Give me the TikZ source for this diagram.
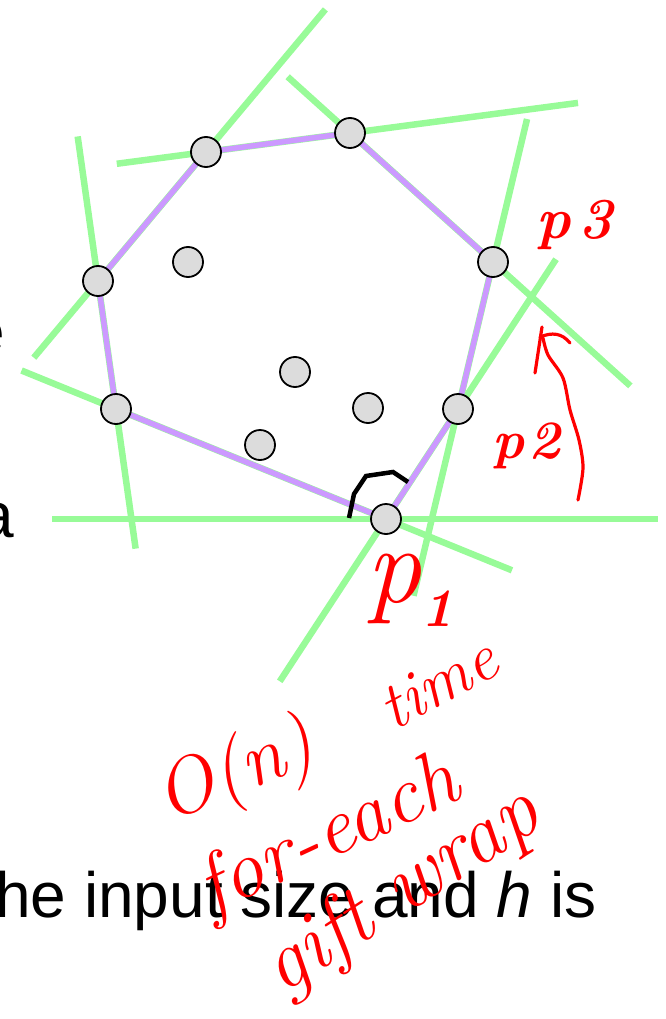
\documentclass[tikz,border=0pt]{standalone}
\usepackage{fontspec}
\usepackage{tikz}
\usetikzlibrary{arrows.meta, backgrounds}
\newfontfamily\slidefont{Liberation Sans}
\definecolor{suppgreen}{RGB}{152,251,152}
\definecolor{hullpurple}{RGB}{204,153,255}
\definecolor{pointgray}{RGB}{220,220,220}

\begin{document}
\begin{tikzpicture}[
  x=1pt, y=-1pt,
  supp/.style={draw=suppgreen, line width=6.5pt},
  hull/.style={draw=hullpurple, line width=5.5pt},
  pnt/.style={circle, draw, fill=pointgray, line width=1.8pt,
    minimum size=30pt, inner sep=0pt},
  anglearc/.style={draw=black, line width=4.5pt},
  pen/.style={draw=red, line width=3.2pt, line cap=round, line join=round},
  note/.style={text=red, inner sep=0pt},
  slide/.style={font=\slidefont\fontsize{64}{64}\selectfont, inner sep=0pt}
]
\useasboundingbox (0,0) rectangle (665,1019);
\clip (0,0) rectangle (665,1019);

\node[slide, anchor=base west] (body) at (-5,917) {he input size and \textit{h} is};
\node[slide, anchor=base east] (cuta) at (14,537) {a};
\node[slide, anchor=base east] (cute) at (5,353) {e};

\node[pnt] (p1) at (386,519) {};
\node[pnt] (p2) at (458,409) {};
\node[pnt] (p3) at (493,262) {};
\node[pnt] (p4) at (350,133) {};
\node[pnt] (p5) at (206,152) {};
\node[pnt] (p6) at (98,281) {};
\node[pnt] (p7) at (116,409) {};
\node[pnt] (q1) at (188,262) {};
\node[pnt] (q2) at (295,372) {};
\node[pnt] (q3) at (368,408) {};
\node[pnt] (q4) at (260,445) {};

\begin{scope}[on background layer]
\draw[supp] ([xshift=-334pt]p1.center) -- ([xshift=272pt]p1.center);
\draw[supp, shorten <=-194pt, shorten >=-179pt] (p1.center) -- (p2.center);
\draw[supp, shorten <=-192pt, shorten >=-147pt] (p2.center) -- (p3.center);
\draw[supp, shorten <=-185pt, shorten >=-84pt] (p3.center) -- (p4.center);
\draw[supp, shorten <=-230pt, shorten >=-90pt] (p4.center) -- (p5.center);
\draw[supp, shorten <=-186pt, shorten >=-100pt] (p5.center) -- (p6.center);
\draw[supp, shorten <=-146pt, shorten >=-141pt] (p6.center) -- (p7.center);
\draw[supp, shorten <=-102pt, shorten >=-136pt] (p7.center) -- (p1.center);
\draw[hull] (p1.center) -- (p2.center) -- (p3.center) -- (p4.center)
  -- (p5.center) -- (p6.center) -- (p7.center) -- cycle;
\end{scope}

\draw[anglearc] ([shift={(-37,-1)}]p1.center) -- ([shift={(-32,-25)}]p1.center)
  -- ([shift={(-20,-43)}]p1.center) -- ([shift={(7,-47)}]p1.center)
  -- ([shift={(22,-37)}]p1.center);

\node[note, anchor=base west, font=\fontsize{58}{58}\selectfont\bfseries\itshape] (lp3) at (536,238) {p\hspace{8pt}3};
\node[note, anchor=base west, font=\fontsize{54}{54}\selectfont\bfseries\itshape] (lp2) at (492,458) {p\hspace{4pt}2};
\node[note, anchor=base west, font=\fontsize{110}{110}\selectfont\itshape] (lp1) at (366,602)
  {p\raisebox{-24pt}{\fontsize{54}{54}\selectfont\bfseries 1}};
\node[note, anchor=base, rotate=22, font=\fontsize{78}{78}\selectfont\itshape] (lon) at (243,792) {O(n)};
\node[note, anchor=base, rotate=28, font=\fontsize{66}{66}\selectfont\itshape] (ltime) at (448,702) {time};
\node[note, anchor=base, rotate=25, font=\fontsize{82}{82}\selectfont\itshape] (leach) at (338,856) {for-each};
\node[note, anchor=base, rotate=33, font=\fontsize{84}{84}\selectfont\itshape] (lwrap) at (414,910) {gift wrap};

\coordinate (tail) at (578,500);
\coordinate (tip) at (542,327);
\draw[pen] plot[smooth] coordinates {(tail) (583,468) (579,440) (570,410) (563,378) (548,355) (543,338)};
\draw[pen] (535,373) -- (tip);
\draw[pen] (540,337) .. controls (552,332) and (562,333) .. (570,343);
\end{tikzpicture}
\end{document}
